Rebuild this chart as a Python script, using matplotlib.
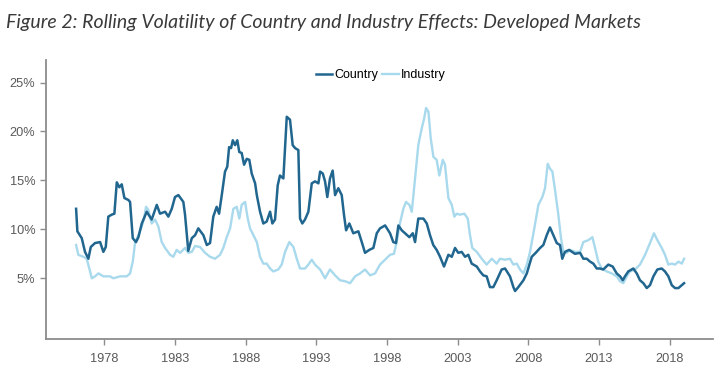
import matplotlib
matplotlib.use("Agg")
import matplotlib.pyplot as plt
from matplotlib.ticker import FuncFormatter

# --- data (year, volatility %) ---
country_years = [
    1976.00, 1976.09, 1976.40, 1976.63, 1976.87, 1977.04, 1977.34, 1977.70, 1977.93, 1978.10,
    1978.28, 1978.52, 1978.71, 1978.88, 1979.06, 1979.23, 1979.42, 1979.70, 1979.82, 1980.01,
    1980.24, 1980.41, 1980.65, 1981.00, 1981.35, 1981.71, 1981.94, 1982.30, 1982.53, 1982.77,
    1983.00, 1983.24, 1983.59, 1983.71, 1983.94, 1984.19, 1984.42, 1984.65, 1985.01, 1985.25,
    1985.48, 1985.71, 1985.95, 1986.12, 1986.31, 1986.54, 1986.70, 1986.83, 1986.97, 1987.09,
    1987.25, 1987.41, 1987.55, 1987.72, 1987.89, 1988.08, 1988.26, 1988.43, 1988.67, 1988.79,
    1989.02, 1989.25, 1989.49, 1989.73, 1989.89, 1990.08, 1990.27, 1990.43, 1990.67, 1990.91,
    1991.14, 1991.33, 1991.50, 1991.73, 1991.85, 1992.01, 1992.20, 1992.44, 1992.68, 1992.91,
    1993.15, 1993.27, 1993.46, 1993.62, 1993.78, 1993.97, 1994.16, 1994.33, 1994.56, 1994.80,
    1994.96, 1995.11, 1995.34, 1995.62, 1995.98, 1996.22, 1996.45, 1996.75, 1997.04, 1997.28,
    1997.51, 1997.87, 1998.22, 1998.45, 1998.64, 1998.81, 1999.05, 1999.28, 1999.59, 1999.83,
    1999.99, 2000.22, 2000.58, 2000.82, 2001.05, 2001.28, 2001.52, 2001.76, 2002.04, 2002.35,
    2002.59, 2002.82, 2003.05, 2003.29, 2003.53, 2003.76, 2004.00, 2004.36, 2004.59, 2004.82,
    2005.06, 2005.29, 2005.53, 2005.77, 2006.12, 2006.36, 2006.71, 2006.95, 2007.07, 2007.30,
    2007.66, 2007.90, 2008.25, 2008.53, 2008.84, 2009.07, 2009.31, 2009.54, 2009.78, 2010.02,
    2010.25, 2010.41, 2010.60, 2010.89, 2011.31, 2011.67, 2011.90, 2012.14, 2012.38, 2012.61,
    2012.85, 2013.08, 2013.31, 2013.67, 2013.98, 2014.26, 2014.50, 2014.69, 2014.85, 2015.08,
    2015.44, 2015.68, 2015.91, 2016.15, 2016.39, 2016.62, 2016.86, 2017.14, 2017.45, 2017.68,
    2017.92, 2018.16, 2018.39, 2018.63, 2018.87, 2019.03,
]
country_vol = [
    12.1, 9.8, 9.1, 7.7, 7.0, 8.2, 8.6, 8.7, 7.7, 8.2,
    11.3, 11.5, 11.6, 14.8, 14.3, 14.6, 13.2, 13.0, 12.8, 9.1,
    8.7, 9.2, 10.6, 11.8, 11.0, 12.5, 11.6, 11.8, 11.3, 12.1,
    13.3, 13.5, 12.8, 11.5, 7.8, 9.1, 9.4, 10.1, 9.4, 8.4,
    8.6, 11.3, 12.3, 11.6, 13.5, 15.9, 16.4, 18.4, 18.3, 19.1,
    18.6, 19.1, 17.9, 17.8, 16.6, 17.2, 17.1, 15.7, 14.7, 13.5,
    11.8, 10.6, 10.8, 11.8, 10.6, 11.0, 14.5, 15.5, 15.2, 21.5,
    21.2, 18.6, 18.3, 18.1, 11.1, 10.6, 11.0, 11.8, 14.7, 14.9,
    14.7, 15.9, 15.7, 14.9, 13.3, 15.2, 16.0, 13.5, 14.2, 13.5,
    11.5, 9.9, 10.6, 9.6, 9.8, 8.7, 7.6, 7.9, 8.1, 9.6,
    10.1, 10.4, 9.6, 8.7, 8.6, 10.4, 9.9, 9.6, 9.2, 9.6,
    8.7, 11.1, 11.1, 10.6, 9.4, 8.4, 7.9, 7.2, 6.2, 7.4,
    7.2, 8.1, 7.6, 7.7, 7.2, 7.4, 6.5, 6.2, 5.7, 5.3,
    5.2, 4.1, 4.1, 4.8, 5.9, 6.0, 5.2, 4.1, 3.7, 4.1,
    4.8, 5.5, 7.2, 7.6, 8.1, 8.4, 9.4, 10.2, 9.4, 8.6,
    8.4, 7.0, 7.7, 7.9, 7.5, 7.6, 7.0, 7.0, 6.7, 6.5,
    6.0, 6.0, 5.9, 6.4, 6.2, 5.5, 5.2, 4.8, 5.2, 5.7,
    6.0, 5.5, 4.8, 4.5, 4.0, 4.3, 5.2, 5.9, 6.0, 5.7,
    5.2, 4.3, 4.0, 4.0, 4.3, 4.5,
]

industry_years = [
    1976.00, 1976.16, 1976.51, 1976.75, 1976.99, 1977.11, 1977.34, 1977.58, 1977.93, 1978.40,
    1978.64, 1979.11, 1979.59, 1979.82, 1980.01, 1980.17, 1980.41, 1980.65, 1980.81, 1980.95,
    1981.11, 1981.35, 1981.59, 1981.82, 1982.06, 1982.30, 1982.65, 1982.88, 1983.12, 1983.36,
    1983.71, 1983.94, 1984.19, 1984.42, 1984.77, 1985.13, 1985.48, 1985.83, 1986.19, 1986.42,
    1986.66, 1986.90, 1987.13, 1987.37, 1987.55, 1987.72, 1987.96, 1988.15, 1988.31, 1988.55,
    1988.79, 1989.02, 1989.25, 1989.49, 1989.73, 1989.96, 1990.31, 1990.55, 1990.79, 1991.09,
    1991.38, 1991.62, 1991.85, 1992.20, 1992.44, 1992.68, 1992.91, 1993.27, 1993.62, 1993.97,
    1994.33, 1994.68, 1995.04, 1995.39, 1995.75, 1996.10, 1996.45, 1996.81, 1997.16, 1997.51,
    1997.87, 1998.22, 1998.50, 1998.69, 1998.92, 1999.16, 1999.35, 1999.59, 1999.76, 1999.99,
    2000.22, 2000.46, 2000.63, 2000.77, 2000.94, 2001.10, 2001.29, 2001.52, 2001.71, 2001.95,
    2002.11, 2002.35, 2002.59, 2002.77, 2002.94, 2003.17, 2003.48, 2003.72, 2003.88, 2004.04,
    2004.36, 2004.71, 2005.06, 2005.42, 2005.77, 2006.00, 2006.36, 2006.71, 2006.95, 2007.19,
    2007.42, 2007.66, 2007.90, 2008.13, 2008.43, 2008.72, 2009.00, 2009.19, 2009.38, 2009.54,
    2009.71, 2009.90, 2010.13, 2010.32, 2010.49, 2010.73, 2010.96, 2011.31, 2011.67, 2011.90,
    2012.26, 2012.54, 2012.73, 2012.96, 2013.20, 2013.56, 2013.91, 2014.26, 2014.50, 2014.73,
    2014.97, 2015.20, 2015.56, 2015.91, 2016.27, 2016.62, 2016.90, 2017.14, 2017.45, 2017.68,
    2017.92, 2018.16, 2018.39, 2018.63, 2018.87, 2019.03,
]
industry_vol = [
    8.4, 7.4, 7.2, 7.0, 5.7, 5.0, 5.2, 5.5, 5.2, 5.2,
    5.0, 5.2, 5.2, 5.5, 6.7, 8.6, 9.4, 10.3, 11.1, 12.3,
    12.0, 10.6, 11.0, 10.3, 8.7, 8.1, 7.4, 7.2, 7.9, 7.6,
    8.1, 7.6, 7.7, 8.3, 8.2, 7.6, 7.2, 7.0, 7.4, 8.1,
    9.2, 10.1, 12.1, 12.3, 11.1, 12.5, 12.8, 11.1, 10.1, 9.4,
    8.7, 7.2, 6.5, 6.5, 6.0, 5.7, 5.9, 6.4, 7.7, 8.7,
    8.2, 7.0, 6.0, 6.0, 6.4, 6.9, 6.4, 5.9, 5.0, 5.9,
    5.3, 4.8, 4.7, 4.5, 5.2, 5.5, 5.9, 5.3, 5.5, 6.4,
    6.9, 7.4, 7.5, 8.7, 10.6, 12.1, 12.8, 12.5, 11.8, 15.2,
    18.6, 20.3, 21.3, 22.4, 22.0, 19.3, 17.4, 17.1, 15.5, 17.1,
    16.6, 13.2, 12.5, 11.3, 11.6, 11.5, 11.6, 11.1, 9.4, 8.1,
    7.7, 7.0, 6.4, 7.0, 6.5, 7.0, 6.9, 7.0, 6.4, 6.5,
    5.9, 5.5, 6.4, 7.7, 10.1, 12.5, 13.3, 14.2, 16.7, 16.2,
    15.9, 14.0, 11.5, 9.1, 7.7, 7.6, 7.9, 7.7, 7.7, 8.7,
    8.9, 9.2, 8.1, 6.7, 6.0, 5.7, 5.5, 5.2, 4.7, 4.5,
    5.2, 5.7, 5.9, 6.4, 7.4, 8.6, 9.6, 8.9, 8.1, 7.4,
    6.4, 6.5, 6.4, 6.7, 6.5, 7.0,
]

x_ticks = [1978, 1983, 1988, 1993, 1998, 2003, 2008, 2013, 2018]
y_ticks = [5, 10, 15, 20, 25]

COUNTRY_C = "#21668f"
INDUSTRY_C = "#a8d9ec"
AXIS_C = "#8c8c8c"
TEXT_C = "#595959"

plt.rcParams["font.family"] = ["Liberation Sans", "DejaVu Sans"]

fig = plt.figure(figsize=(7.2, 3.88), dpi=100)
ax = fig.add_axes([0.0635, 0.1263, 0.9272, 0.7191])

ax.plot(industry_years, industry_vol, color=INDUSTRY_C, lw=1.7, label="Industry", zorder=2)
ax.plot(country_years, country_vol, color=COUNTRY_C, lw=1.8, label="Country", zorder=3)

ax.set_xlim(1973.85, 2021.1)
ax.set_ylim(-1.2, 27.3)
ax.set_xticks(x_ticks)
ax.set_yticks(y_ticks)
ax.yaxis.set_major_formatter(FuncFormatter(lambda v, p: f"{v:.0f}%"))

for s in ("top", "right"):
    ax.spines[s].set_visible(False)
for s in ("left", "bottom"):
    ax.spines[s].set_color(AXIS_C)
    ax.spines[s].set_linewidth(1.3)
ax.tick_params(axis="both", colors=AXIS_C, labelcolor=TEXT_C, labelsize=9.2, length=4, width=1)
ax.tick_params(axis="x", pad=6)

handles, labels = ax.get_legend_handles_labels()
ax.legend(handles[::-1], labels[::-1], loc="center", bbox_to_anchor=(0.502, 0.946), ncol=2,
          frameon=False, fontsize=9, handlelength=1.3, handletextpad=0.2, columnspacing=0.3,
          borderaxespad=0)

fig.text(0.008, 0.942, "Figure 2: Rolling Volatility of Country and Industry Effects: Developed Markets",
         fontsize=14.0, style="italic", family="Lato", color="#3a3a3a",
         va="center", ha="left")

fig.savefig("out.png", dpi=100)
